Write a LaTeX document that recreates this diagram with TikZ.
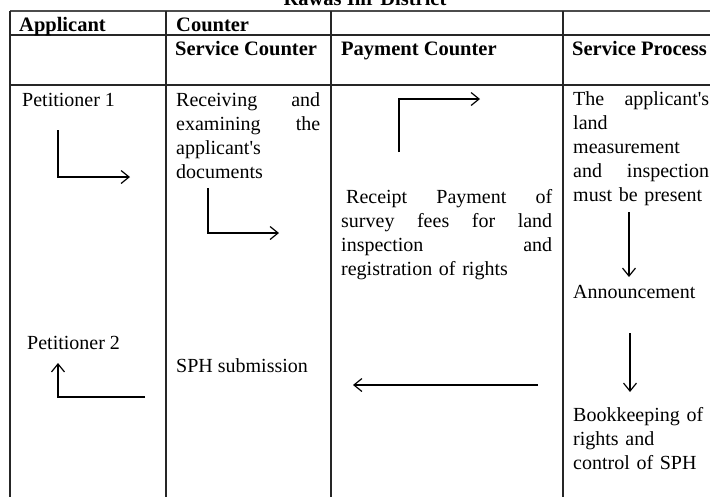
\documentclass[tikz,border=0pt]{standalone}
\usepackage{fontspec}
\setmainfont{Liberation Serif}
\usepackage{tikz}
\usetikzlibrary{arrows.meta,positioning,calc}

\begin{document}
\begin{tikzpicture}[
    x=1pt, y=-1pt,
    txt/.style={anchor=base west, inner sep=0pt, font=\fontsize{20}{24}\selectfont},
    head/.style={txt, font=\fontsize{20.5}{24}\selectfont\bfseries},
    cell/.style={txt, align=left},
    rule/.style={line width=1.1pt, black!85},
    toprule/.style={line width=1.7pt, black!70},
    arrow/.style={->, >={Straight Barb[length=8pt, width=13pt]}, line width=1.2pt}
]
    \useasboundingbox (0,0) rectangle (710,496);
    \clip (0,0) rectangle (710,496);

    \node[head, anchor=base] (title) at (365,5) {Rawas Ilir District};

    \draw[toprule] (10,11) -- (710,11);
    \draw[rule] (10,35) -- (710,35);
    \draw[rule] (10,85) -- (710,85);
    \foreach \cx in {10,166,331,563}
        \draw[rule] (\cx,11) -- (\cx,497);

    \node[head] (applicant) at (19,31) {Applicant};
    \node[head] (counter) at (176,31) {Counter};
    \node[head] (svccounter) at (175,55) {Service Counter};
    \node[head] (paycounter) at (341,55) {Payment Counter};
    \node[head] (svcprocess) at (572,55) {Service Process};

    \node[txt] (pet1) at (22,106) {Petitioner 1};
    \node[cell, text width=144pt] (receiving) at (176,106)
        {Receiving\hfill and\\examining\hfill the\\applicant\textquotesingle s\\documents};
    \node[cell, text width=211pt] (receipt) at (341,203)
        {\hspace*{5pt}Receipt\hfill Payment\hfill of\\survey\hfill fees\hfill for\hfill land\\inspection\hfill and\\registration of rights};
    \node[cell, text width=136pt] (inspect) at (573,105)
        {The\hfill applicant\textquotesingle s\\land\\measurement\\and\hfill inspection\\must be present};
    \node[txt] (announce) at (573,298) {Announcement};
    \node[cell, text width=136pt] (bookkeep) at (573,421)
        {Bookkeeping of\\rights and\\control of SPH};
    \node[txt] (pet2) at (27,349) {Petitioner 2};
    \node[txt] (sphsub) at (176,372) {SPH submission};

    \coordinate (p1s) at (58,130);
    \coordinate (p1e) at (130,177);
    \coordinate (rcs) at (208,188);
    \coordinate (rce) at (279,233);
    \coordinate (pys) at (399,152);
    \coordinate (pye) at (480,99);
    \coordinate (ins) at (629,212);
    \coordinate (ine) at (629,277);
    \coordinate (ans) at (630,333);
    \coordinate (ane) at (630,392);
    \coordinate (bks) at (538,385);
    \coordinate (bke) at (353,385);
    \coordinate (sps) at (145,397);
    \coordinate (spe) at (58,363);

    \draw[arrow] (p1s) |- (p1e);
    \draw[arrow] (rcs) |- (rce);
    \draw[arrow] (pys) |- (pye);
    \draw[arrow] (ins) -- (ine);
    \draw[arrow] (ans) -- (ane);
    \draw[arrow] (bks) -- (bke);
    \draw[arrow] (sps) -| (spe);
\end{tikzpicture}
\end{document}
